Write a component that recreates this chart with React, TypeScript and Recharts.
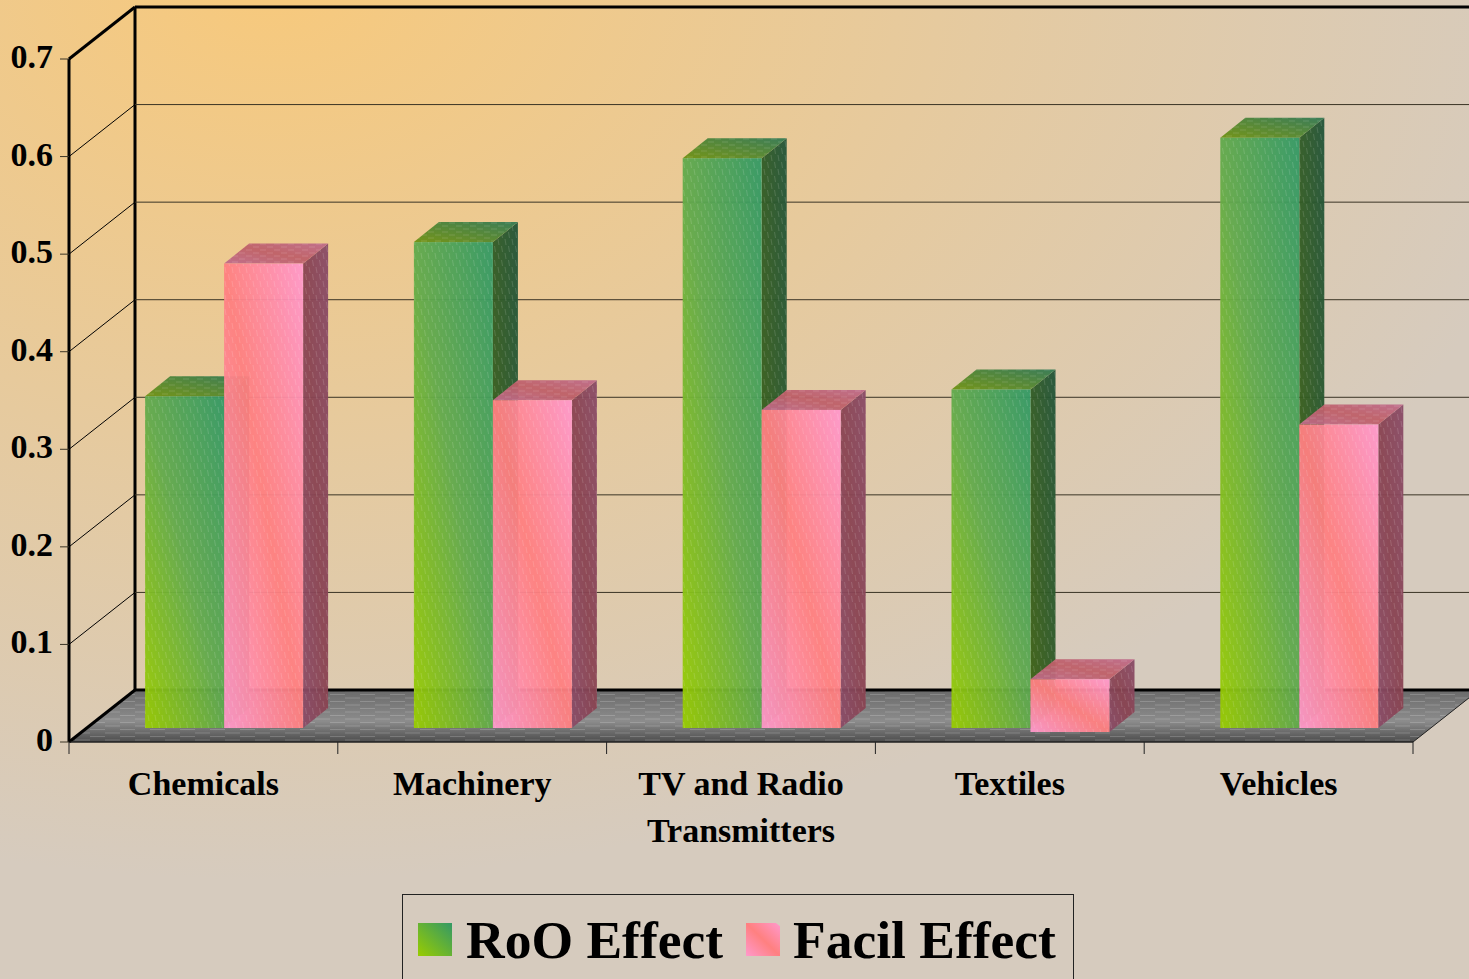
import { Bar, BarChart, CartesianGrid, Legend, XAxis, YAxis } from "recharts"

const categories = ["Chemicals", "Machinery", "TV and Radio Transmitters", "Textiles", "Vehicles"]
const categoryLines = [["Chemicals"], ["Machinery"], ["TV and Radio", "Transmitters"], ["Textiles"], ["Vehicles"]]
const rooEffect = [0.34, 0.498, 0.584, 0.347, 0.605]
const facilEffect = [0.476, 0.336, 0.326, 0.05, 0.311]
const yTicks = [0, 0.1, 0.2, 0.3, 0.4, 0.5, 0.6, 0.7]

const rows = categories.map((name, i) => ({ name, roo: rooEffect[i], facil: facilEffect[i] }))

const FONT = "'Liberation Serif', 'Times New Roman', serif"
// 3d look: how far the back wall sits from the front axes, and the bars from the front
const WALL_X = 66
const WALL_Y = -52
const BAR_X = 21
const BAR_Y = -14
const DEPTH_X = 25
const DEPTH_Y = -20
const BAND = 1344 / categories.length

function GridRow(props: any) {
  const { x1, x2, y1, index } = props
  const isFloor = Math.abs(y1 - 742) < 2
  const isTop = Math.abs(y1 - 59) < 2
  const heavy = isFloor || isTop
  const bx = x1 + WALL_X
  const by = y1 + WALL_Y
  return (
    <g key={index}>
      {isFloor && (
        <>
          <polygon
            points={`${x1},${y1} ${bx},${by} ${x2 + WALL_X},${by} ${x2},${y1}`}
            fill="url(#floor-fill)"
          />
          <polygon
            points={`${x1},${y1} ${bx},${by} ${x2 + WALL_X},${by} ${x2},${y1}`}
            fill="url(#floor-hatch)"
          />
        </>
      )}
      <line x1={x1} y1={y1} x2={bx} y2={by} stroke="#000" strokeWidth={heavy ? 3 : 1} />
      <line x1={bx} y1={by} x2={x2 + WALL_X} y2={by} stroke={heavy ? "#000" : "#3a3425"} strokeWidth={heavy ? 3 : 1} />
      {isFloor && <line x1={bx} y1={by} x2={bx} y2={59 + WALL_Y} stroke="#000" strokeWidth={3} />}
      {isFloor && <line x1={x2} y1={y1} x2={x2 + WALL_X} y2={by} stroke="#222" strokeWidth={1} />}
    </g>
  )
}

function Bar3D(props: any) {
  const { x, y, width, height, front, side, top } = props
  const left = x + BAR_X
  const right = left + width
  const upper = y + BAR_Y
  // the short textiles bar hangs a little below the others in the original
  const lower = upper + height + (height < 60 ? 4 : 0)
  const sidePts = `${right},${upper} ${right + DEPTH_X},${upper + DEPTH_Y} ${right + DEPTH_X},${lower + DEPTH_Y} ${right},${lower}`
  const topPts = `${left},${upper} ${left + DEPTH_X},${upper + DEPTH_Y} ${right + DEPTH_X},${upper + DEPTH_Y} ${right},${upper}`
  return (
    <g opacity={0.95}>
      <polygon points={sidePts} fill={side} />
      <polygon points={sidePts} fill="url(#bar-hatch)" />
      <polygon points={topPts} fill={top} />
      <polygon points={topPts} fill="url(#top-hatch)" />
      <rect x={left} y={upper} width={width} height={lower - upper} fill={front} />
      <rect x={left} y={upper} width={width} height={lower - upper} fill="url(#bar-hatch)" />
    </g>
  )
}

function CategoryTick(props: any) {
  const { x, index } = props
  const last = index === categories.length - 1
  return (
    <g>
      <line x1={x - BAND / 2} y1={742} x2={x - BAND / 2} y2={754} stroke="#222" strokeWidth={1} />
      {last && <line x1={x + BAND / 2} y1={742} x2={x + BAND / 2} y2={754} stroke="#222" strokeWidth={1} />}
      <text textAnchor="middle" fontFamily={FONT} fontWeight="bold" fontSize={34} fill="#000">
        {categoryLines[index].map((line, i) => (
          <tspan key={line} x={x} y={795 + i * 47}>
            {line}
          </tspan>
        ))}
      </text>
    </g>
  )
}

function ValueTick(props: any) {
  const { x, y, payload } = props
  return (
    <text x={x} y={y + 9} textAnchor="end" fontFamily={FONT} fontWeight="bold" fontSize={34} fill="#000">
      {payload.value}
    </text>
  )
}

function LegendBox() {
  const swatch = (bg: string, notch: boolean) => (
    <span
      style={{
        display: "inline-block",
        width: 34,
        height: 33,
        background: bg,
        clipPath: notch ? "polygon(0 0, 88% 0, 100% 10%, 100% 100%, 0 100%)" : undefined,
      }}
    />
  )
  const label = { fontFamily: FONT, fontWeight: "bold", fontSize: 53.5, color: "#000", lineHeight: "90px" } as const
  return (
    <div
      style={{
        boxSizing: "border-box",
        width: 672,
        height: 120,
        border: "1px solid #222",
        position: "relative",
      }}
    >
      <span style={{ position: "absolute", left: 15, top: 28, lineHeight: 0 }}>
        {swatch("linear-gradient(to top right, #99cc00, #339966)", false)}
      </span>
      <span style={{ ...label, position: "absolute", left: 63, top: 0, whiteSpace: "nowrap" }}>RoO Effect</span>
      <span style={{ position: "absolute", left: 343, top: 28, lineHeight: 0 }}>
        {swatch("linear-gradient(to top right, #ff99cc, #ff8080 50%, #ff99cc)", true)}
      </span>
      <span style={{ ...label, position: "absolute", left: 390, top: 0, whiteSpace: "nowrap" }}>Facil Effect</span>
    </div>
  )
}

export default function App() {
  return (
    <div
      style={{
        position: "absolute",
        left: 0,
        top: 0,
        width: 1469,
        height: 979,
        overflow: "hidden",
        background: "radial-gradient(ellipse 1300px 900px at 270px -20px, #f7c97c 0%, #d6cbbe 100%)",
      }}
    >
      <BarChart
        width={1469}
        height={979}
        data={rows}
        margin={{ top: 59, right: 56, bottom: 0, left: 0 }}
        barCategoryGap="20.5%"
        barGap={0}
      >
        <defs>
          <linearGradient id="green-front" x1="0" y1="1" x2="1" y2="0">
            <stop offset="0" stopColor="#99cc00" />
            <stop offset="0.5" stopColor="#62aa4c" />
            <stop offset="1" stopColor="#339966" />
          </linearGradient>
          <linearGradient id="green-side" x1="0" y1="1" x2="1" y2="0">
            <stop offset="0" stopColor="#3f6212" />
            <stop offset="1" stopColor="#22553a" />
          </linearGradient>
          <linearGradient id="green-top" x1="0" y1="1" x2="1" y2="0">
            <stop offset="0" stopColor="#6f9212" />
            <stop offset="1" stopColor="#337a55" />
          </linearGradient>
          <linearGradient id="pink-front" x1="0" y1="1" x2="1" y2="0">
            <stop offset="0" stopColor="#ff99cc" />
            <stop offset="0.5" stopColor="#ff8080" />
            <stop offset="1" stopColor="#ff99cc" />
          </linearGradient>
          <linearGradient id="pink-side" x1="0" y1="1" x2="1" y2="0">
            <stop offset="0" stopColor="#8a4c68" />
            <stop offset="0.5" stopColor="#8a4452" />
            <stop offset="1" stopColor="#8a4c68" />
          </linearGradient>
          <linearGradient id="pink-top" x1="0" y1="1" x2="1" y2="0">
            <stop offset="0" stopColor="#bf6c8c" />
            <stop offset="0.5" stopColor="#bf6068" />
            <stop offset="1" stopColor="#bf6c8c" />
          </linearGradient>
          <linearGradient id="floor-fill" x1="0" y1="1" x2="0" y2="0">
            <stop offset="0" stopColor="#4c4c4c" />
            <stop offset="0.4" stopColor="#8c8c8c" />
            <stop offset="1" stopColor="#6a6a6a" />
          </linearGradient>
          <pattern id="bar-hatch" width={7} height={14} patternUnits="userSpaceOnUse">
            <line x1={1} y1={1} x2={2} y2={7} stroke="#fff" strokeOpacity={0.14} />
            <line x1={4.5} y1={8} x2={5.5} y2={14} stroke="#fff" strokeOpacity={0.14} />
          </pattern>
          <pattern id="top-hatch" width={14} height={6} patternUnits="userSpaceOnUse">
            <line x1={1} y1={1} x2={7} y2={1} stroke="#fff" strokeOpacity={0.14} />
            <line x1={8} y1={4} x2={14} y2={4} stroke="#fff" strokeOpacity={0.14} />
          </pattern>
          <pattern id="floor-hatch" width={30} height={7} patternUnits="userSpaceOnUse">
            <line x1={0} y1={1.5} x2={15} y2={1.5} stroke="#fff" strokeOpacity={0.18} />
            <line x1={15} y1={5} x2={30} y2={5} stroke="#fff" strokeOpacity={0.18} />
          </pattern>
        </defs>
        <CartesianGrid vertical={false} horizontal={GridRow as any} />
        <XAxis
          dataKey="name"
          height={152}
          axisLine={{ stroke: "#222", strokeWidth: 1.5 }}
          tickLine={false}
          interval={0}
          tick={CategoryTick as any}
        />
        <YAxis
          width={69}
          domain={[0, 0.7]}
          ticks={yTicks}
          interval={0}
          axisLine={{ stroke: "#000", strokeWidth: 3 }}
          tickLine={{ stroke: "#3a3425", strokeWidth: 1 }}
          tickSize={9}
          tickMargin={7}
          tick={ValueTick as any}
        />
        <Legend
          verticalAlign="bottom"
          height={85}
          content={LegendBox as any}
          wrapperStyle={{ left: 402, bottom: "auto", top: 894, width: 672, height: 85 }}
        />
        <Bar
          dataKey="roo"
          name="RoO Effect"
          isAnimationActive={false}
          shape={(p: any) => <Bar3D {...p} front="url(#green-front)" side="url(#green-side)" top="url(#green-top)" />}
        />
        <Bar
          dataKey="facil"
          name="Facil Effect"
          isAnimationActive={false}
          shape={(p: any) => <Bar3D {...p} front="url(#pink-front)" side="url(#pink-side)" top="url(#pink-top)" />}
        />
      </BarChart>
    </div>
  )
}
